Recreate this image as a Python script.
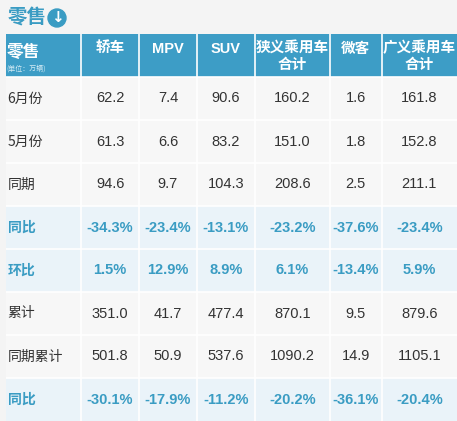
import numpy as np, pandas as pd, seaborn as sns, matplotlib
matplotlib.use("Agg")
import matplotlib.pyplot as plt
from matplotlib.colors import ListedColormap
from matplotlib.patches import Circle

cols = ["轿车", "MPV", "SUV", "狭义乘用车\n合计", "微客", "广义乘用车\n合计"]
rows = ["6月份", "5月份", "同期", "同比", "环比", "累计", "同期累计", "同比"]
jun = [62.2, 7.4, 90.6, 160.2, 1.6, 161.8]
may = [61.3, 6.6, 83.2, 151.0, 1.8, 152.8]
ly = [94.6, 9.7, 104.3, 208.6, 2.5, 211.1]
yoy = [-34.3, -23.4, -13.1, -23.2, -37.6, -23.4]
mom = [1.5, 12.9, 8.9, 6.1, -13.4, 5.9]
cum = [351.0, 41.7, 477.4, 870.1, 9.5, 879.6]
lycum = [501.8, 50.9, 537.6, 1090.2, 14.9, 1105.1]
cumyoy = [-30.1, -17.9, -11.2, -20.2, -36.1, -20.4]
rowdata = [jun, may, ly, yoy, mom, cum, lycum, cumyoy]
pct = [False, False, False, True, True, False, False, True]

widths = [13, 10, 10, 10, 13, 9, 13]
kind = [0] + [1 if p else 2 for p in pct]  # 0 header,1 blue row,2 plain row
grid = np.array([[k] * sum(widths) for k in kind])

plt.rcParams['font.family'] = ['Noto Sans CJK SC', 'DejaVu Sans']
numfont = ['Liberation Sans', 'Noto Sans CJK SC']
fig = plt.figure(figsize=(4.57, 4.21), dpi=100, facecolor="#f4f4f4")
ax = fig.add_axes([6/457, 0, 451/457, 387/421])
cmap = ListedColormap(["#3d9dc6", "#eaf3f9", "#f7f7f7"])
sns.heatmap(pd.DataFrame(grid), ax=ax, cmap=cmap, cbar=False, vmin=-0.5, vmax=2.5,
            xticklabels=False, yticklabels=False)
edges = np.cumsum([0] + widths)
for e in edges[1:-1]:
    ax.axvline(e, color="white", lw=1.2)
for r in range(1, 9):
    ax.axhline(r, color="white", lw=1.2)

blue = "#3a9cc3"
ax.text(0.1, 0.42, "零售", color="white", fontsize=12, fontweight="bold", va="center")
ax.text(0.1, 0.8, "(单位：万辆)", color="#d5ecf5", fontsize=5, va="center")
for j, c in enumerate(cols):
    cx = (edges[j+1] + edges[j+2]) / 2
    if "\n" in c:
        ax.text(cx, 0.5, c, color="white", fontsize=10.5, fontweight="bold",
                ha="center", va="center", linespacing=1.1)
    else:
        ax.text(cx, 0.35, c, color="white", fontsize=10.5, fontweight="bold",
                ha="center", va="center", family=numfont)
for i, (name, vals) in enumerate(zip(rows, rowdata)):
    y = i + 1.5
    col = blue if pct[i] else "#333333"
    fw = "bold" if pct[i] else "normal"
    ax.text(0.3, y, name, color=col, fontsize=10, fontweight=fw, va="center")
    for j, v in enumerate(vals):
        cx = (edges[j+1] + edges[j+2]) / 2
        s = f"{v:.1f}%" if pct[i] else f"{v:.1f}"
        ax.text(cx, y, s, color=col, fontsize=10.5, fontweight=fw, ha="center",
                va="center", family=numfont)

fig.text(8/457, 1 - 18/421, "零售", color=blue, fontsize=14, fontweight="bold", va="center")
fig.patches.append(Circle((57, 421 - 18), 9, transform=None, color=blue))
fig.text(57/457, 1 - 18/421, "↓", color="white", fontsize=11, fontweight="bold",
         ha="center", va="center", family="DejaVu Sans")
fig.savefig("out.png", dpi=100, facecolor=fig.get_facecolor())
